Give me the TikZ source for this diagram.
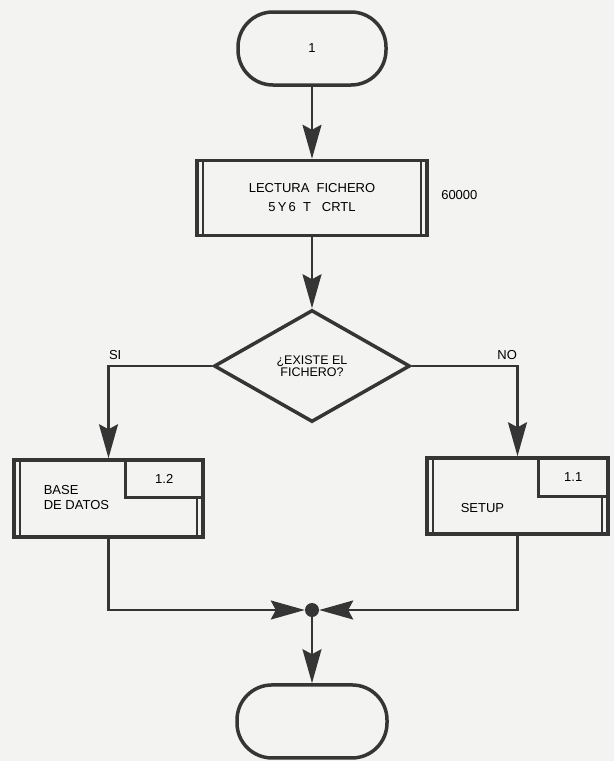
\documentclass[tikz,border=0pt]{standalone}
\usepackage{fontspec}
\setmainfont{Liberation Sans}
\usetikzlibrary{positioning,arrows.meta,calc,shapes.geometric}
\definecolor{inkGray}{HTML}{353535}
\definecolor{paperGray}{HTML}{F3F3F1}

\begin{document}
\begin{tikzpicture}[
  font=\fontsize{13}{15}\selectfont,
  >={Stealth[length=34pt,width=19pt,inset=5pt]},
  terminal/.style={rectangle, rounded corners=35pt, draw=inkGray,
                   line width=3.5pt, minimum width=148pt, minimum height=73pt},
  module/.style={rectangle, draw=inkGray, line width=3.5pt, inner sep=0pt},
  subnum/.style={rectangle, draw=inkGray, line width=3pt, inner sep=0pt},
  bar/.style={draw=inkGray, line width=2pt},
  decision/.style={diamond, draw=inkGray, line width=3.5pt, aspect=1.75,
                   minimum width=196pt, minimum height=112pt, inner sep=0pt,
                   align=center, font=\fontsize{12.5}{12.5}\selectfont},
  flow/.style={->, draw=inkGray, line width=2.2pt},
  joint/.style={circle, fill=inkGray, inner sep=0pt, minimum size=14pt}
]
\useasboundingbox (0,0) rectangle (614pt,-761pt);
\fill[paperGray] (0,0) rectangle (614pt,-761pt);

% ===== Start and file reading =====
\node[terminal] (start) at (312pt,-48.5pt) {1};
\node[module, below=72pt of start, minimum width=230pt, minimum height=75pt,
      align=center] (lectura)
  {LECTURA~~FICHERO\\[4pt]5\,Y\,6~~T~~~CRTL};
\draw[bar] ([xshift=8pt]lectura.north west) -- ([xshift=8pt]lectura.south west);
\draw[bar] ([xshift=-8pt]lectura.north east) -- ([xshift=-8pt]lectura.south east);
\node[right=9pt of lectura, yshift=3pt] (lecturaNum) {60000};

% ===== Decision =====
\node[decision, below=71pt of lectura] (existe) {¿EXISTE EL\\FICHERO?};

% ===== Module 1.2 =====
\node[module, minimum width=189pt, minimum height=77pt] (base) at (108.5pt,-498.5pt) {};
\node[subnum, minimum width=78pt, minimum height=38pt, anchor=north east]
  (baseNum) at (base.north east) {1.2};
\draw[bar] ([xshift=8pt]base.north west) -- ([xshift=8pt]base.south west);
\draw[bar] ([xshift=-8pt]baseNum.south east) -- ([xshift=-8pt]base.south east);
\node[anchor=west, align=left, font=\fontsize{13}{14.5}\selectfont]
  (baseText) at ([xshift=28pt, yshift=1pt]base.west) {BASE\\DE DATOS};

% ===== Module 1.1 =====
\node[module, minimum width=181pt, minimum height=76pt] (setup) at (517.5pt,-496pt) {};
\node[subnum, minimum width=70pt, minimum height=39pt, anchor=north east]
  (setupNum) at (setup.north east) {1.1};
\draw[bar] ([xshift=8pt]setup.north west) -- ([xshift=8pt]setup.south west);
\draw[bar] ([xshift=-8pt]setupNum.south east) -- ([xshift=-8pt]setup.south east);
\node[anchor=west] (setupText) at ([xshift=32pt, yshift=-12pt]setup.west) {SETUP};

% ===== Join and stop =====
\node[joint] (join) at (312pt,-610pt) {};
\node[terminal, below=66pt of join, minimum width=150pt] (stop) {};

% ===== Branch labels =====
\coordinate (siCorner) at (base.north |- existe.west);
\coordinate (noCorner) at (setup.north |- existe.east);
\node[above right=3pt and -3pt of siCorner] (siLabel) {SI};
\node[above left=3pt and -3pt of noCorner] (noLabel) {NO};

% ===== Arrows =====
\draw[flow] (start) -- (lectura);
\draw[flow] (lectura) -- (existe);
\draw[flow] (existe.west) -| (base.north);
\draw[flow] (existe.east) -| (setup.north);
\draw[flow] (base.south) |- (join.west);
\draw[flow] (setup.south) |- (join.east);
\draw[flow] (join) -- (stop);

\end{tikzpicture}
\end{document}
